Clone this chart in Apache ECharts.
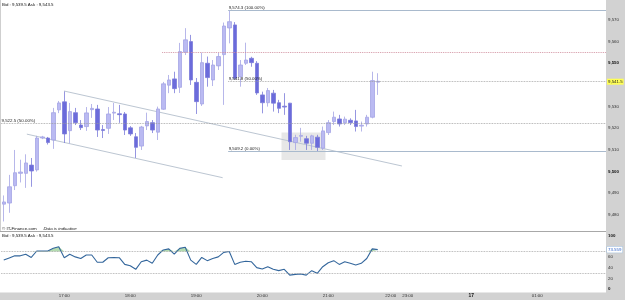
<!DOCTYPE html>
<html>
<head>
<meta charset="utf-8">
<script src="https://cdn.jsdelivr.net/npm/echarts@6/dist/echarts.min.js"></script>
<style>html,body{margin:0;padding:0;background:#fff}#chart{width:625px;height:300px}</style>
</head>
<body>
<div id="chart"></div>
<script>
// 5 minute candles : open, close, low, high
const candles = [
  [9485, 9486, 9477, 9489], [9485.5, 9493, 9481, 9498.5], [9493.5, 9499.5, 9491.5, 9510],
  [9499.2, 9499.8, 9495, 9505.5], [9499.2, 9504, 9492.5, 9508], [9503, 9500.3, 9493, 9506.3],
  [9500.8, 9515.5, 9500, 9516.5], [9515.5, 9516, 9515, 9516.5], [9515.5, 9513.4, 9512.5, 9516],
  [9514.6, 9527.2, 9510.5, 9529.4], [9528.5, 9531.7, 9527, 9532.6], [9532.2, 9517.4, 9513.2, 9537],
  [9518.9, 9527.7, 9513, 9531.7], [9527.2, 9522.6, 9521.5, 9529.4], [9521.5, 9520.3, 9519.2, 9523.8],
  [9520.8, 9527.1, 9518.8, 9529.8], [9528.6, 9529.2, 9524.8, 9531.2], [9528.9, 9519.2, 9516, 9530.8],
  [9519.4, 9519, 9515.5, 9521.5], [9520, 9526.6, 9517.4, 9529.8], [9527, 9527.4, 9523.8, 9531.7],
  [9526.7, 9526.3, 9522.5, 9530.8], [9526.6, 9519.2, 9516.9, 9527.5], [9520.2, 9517.4, 9516.5, 9521],
  [9516.1, 9511.2, 9506.3, 9517.8], [9511.8, 9520.6, 9510, 9521.1], [9521.1, 9523.1, 9519.2, 9527.2],
  [9522.6, 9519.2, 9517.8, 9523.8], [9518.2, 9528.9, 9514.6, 9530], [9528.8, 9540.5, 9528.5, 9541.4],
  [9539.9, 9542.3, 9536.2, 9544.6], [9542.8, 9538.3, 9536.2, 9546.1], [9538.9, 9555.4, 9536.3, 9559.4],
  [9555.1, 9560.8, 9553.8, 9566.2], [9560, 9542.3, 9540, 9563.1], [9541.2, 9532.3, 9526.6, 9543.2],
  [9531.2, 9550.3, 9530.3, 9554.9], [9550, 9543.4, 9539.2, 9553.1], [9542.3, 9549.2, 9539.5, 9551.5],
  [9548.8, 9553.1, 9546.9, 9554.8], [9554, 9567.2, 9530.8, 9568.8], [9566.3, 9569.2, 9559.2, 9574.3],
  [9567.7, 9543.1, 9542.3, 9569], [9543.8, 9549.2, 9539.2, 9551.5], [9550, 9551.5, 9549.2, 9559.5],
  [9552.3, 9550.3, 9548.4, 9553], [9550, 9536.3, 9535.4, 9551], [9535.4, 9531.8, 9526.9, 9536.9],
  [9531.8, 9537.4, 9530, 9538.6], [9536.2, 9531.6, 9527.7, 9537.7], [9531.8, 9529.2, 9527, 9533.1],
  [9530.2, 9529.8, 9526.2, 9536.2], [9531.6, 9513.8, 9510, 9531.7], [9513.4, 9515.7, 9510, 9517],
  [9516.3, 9516.7, 9513.8, 9520.2], [9515.2, 9513.1, 9510, 9516.5], [9513.1, 9516.5, 9510, 9517],
  [9515.9, 9511.2, 9509.2, 9517], [9510.8, 9518.8, 9510, 9520.8], [9518, 9522.6, 9516.9, 9523.8],
  [9523.1, 9525.1, 9521.5, 9527.7], [9524.3, 9522, 9520.8, 9526.2], [9522.6, 9524.2, 9521.5, 9525.4],
  [9523.7, 9522.6, 9521.5, 9524.6], [9523.4, 9520.8, 9518.5, 9528.5], [9521, 9521.4, 9518.5, 9523.1],
  [9522, 9525.1, 9520.8, 9526.2], [9525.1, 9542, 9524.6, 9546.1], [9541.3, 9541.7, 9535.4, 9545.4]
];

// RSI, one value per candle
const rsi = [
  54, 58, 62, 62, 65, 59, 71, 71, 71, 76,
  79, 58.5, 65, 60, 57, 63.5, 63.5, 50, 50, 58.5,
  59, 58.5, 46, 43.6, 36.8, 51, 54, 48, 63.5, 73,
  75, 65, 76, 78, 54, 46, 59, 53, 57, 60,
  68.5, 70, 46, 50, 52, 51, 40, 37.4, 41.7, 36.8,
  34.3, 36.8, 26, 27.4, 28, 26, 34.3, 29.3, 41.7, 49,
  53, 46, 51, 48, 45, 48, 57, 75, 73.56
];

const priceTicks = [9480, 9490, 9500, 9510, 9520, 9530, 9550, 9560, 9570];
const rsiTicks = [0, 20, 40, 60, 100];
const hourLabels = ['17:00', '18:00', '19:00', '20:00', '21:00', '22:00', '23:00', '00:00', '01:00'];

const lastPrice = 9541.5;
const lastRsi = 73.559;
const bidAsk = 'Bid : 9,539.5 Ask : 9,543.5';

// fibonacci levels (start slot, price, text)
const fibPrices = [9574.3, 9541.8, 9509.2];
const fibLabels = ['9,574.3 (100.00%)', '9,541.8 (50.00%)', '9,509.2 (0.00%)'];
const fibStart = 40.8;
const midLevel = 9522.5;
const midLabel = '9,522.5 (50.00%)';
const redLevel = 9555.2;
const redStart = 28.8;

// channel lines and box, in (slot, price)
const upperTrend = [[10.95, 9537.2], [72.4, 9502.6]];
const lowerTrend = [[4.2, 9517.3], [39.8, 9497.2]];
const boxRange = [[50.5, 9518], [58.5, 9505.4]];

// slots: 16:05 .. 22:00, one slot for the closed hour, then 23:00 .. 02:00
const hm = m => String(Math.floor(m / 60) % 24).padStart(2, '0') + ':' + String(m % 60).padStart(2, '0');
const times = [];
for (let m = 16 * 60 + 5; m <= 22 * 60; m += 5) times.push(hm(m));
times.push('22:30');
for (let m = 23 * 60; m <= 26 * 60; m += 5) times.push(hm(m));

const FONT = 'Liberation Sans';
const FS = 4.4;
const NOLINE = { color: 'rgba(0,0,0,0)', width: 0 };

const rsiBase = rsi.map(() => 70);
const rsiOver = rsi.map(v => Math.max(v - 70, 0));

const chart = echarts.init(document.getElementById('chart'));

const fibLines = fibPrices.map((p, i) => [
  {
    coord: [fibStart, p],
    lineStyle: i === 1 ? { color: '#9a9a9a', type: 'dotted', width: 0.8 } : { color: '#a9bacd', type: 'solid', width: 1.2 },
    label: { show: true, position: 'insideStartTop', formatter: fibLabels[i], distance: 0.5, fontSize: FS, fontFamily: FONT, color: '#222' }
  },
  { coord: [times.length - 0.5, p] }
]);

const tl = { fontSize: FS, fontFamily: FONT, color: '#333' };

chart.setOption({
  animation: false,
  backgroundColor: '#fff',
  grid: [
    { left: 1, right: 19, top: 0, height: 231, outerBoundsMode: 'none' },
    { left: 1, right: 19, top: 235.5, height: 53.5, outerBoundsMode: 'none' }
  ],
  xAxis: [
    { type: 'category', gridIndex: 0, data: times, show: false },
    {
      type: 'category', gridIndex: 1, data: times,
      axisLine: { show: false }, axisTick: { show: false },
      axisLabel: {
        interval: (i, v) => hourLabels.includes(v),
        formatter: v => {
          if (v === '00:00') return '{d|17}';
          if (v === '22:00') return '{l|' + v + '}';
          if (v === '23:00') return '{r|' + v + '}';
          return v;
        },
        fontSize: FS, fontFamily: FONT, color: '#333', margin: 4.5,
        rich: {
          d: { fontSize: FS + 0.5, fontFamily: FONT, fontWeight: 'bold', color: '#111' },
          l: Object.assign({ padding: [0, 7, 0, 0] }, tl),
          r: Object.assign({ padding: [0, 0, 0, 5] }, tl)
        }
      }
    },
    { type: 'value', gridIndex: 0, min: -0.5, max: times.length - 0.5, show: false }
  ],
  yAxis: [
    {
      type: 'value', gridIndex: 0, position: 'right', min: 9472.6, max: 9579.2, scale: true,
      splitLine: { show: false }, axisLine: { show: false }, axisTick: { show: false },
      axisLabel: {
        customValues: priceTicks, margin: 2, fontSize: FS, fontFamily: FONT, color: '#333',
        formatter: v => {
          const s = String(v);
          const t = s[0] + ',' + s.slice(1);
          return v % 50 === 0 ? '{b|' + t + '}' : t;
        },
        rich: { b: { fontSize: FS, fontFamily: FONT, fontWeight: 'bold', color: '#111' } }
      }
    },
    {
      type: 'value', gridIndex: 1, position: 'right', min: 0, max: 100,
      splitLine: { show: false }, axisLine: { show: false }, axisTick: { show: false },
      axisLabel: {
        customValues: rsiTicks, margin: 2, fontSize: FS, fontFamily: FONT, color: '#333',
        formatter: v => (v === 0 || v === 100) ? '{b|' + v + '}' : String(v),
        rich: { b: { fontSize: FS, fontFamily: FONT, fontWeight: 'bold', color: '#111' } }
      }
    }
  ],
  graphic: [
    { type: 'rect', z: -10, shape: { x: 606, y: 0, width: 19, height: 300 }, style: { fill: '#d2d2d2' } },
    { type: 'rect', z: -10, shape: { x: 0, y: 292.5, width: 625, height: 8 }, style: { fill: '#d2d2d2' } },
    { type: 'line', z: -5, shape: { x1: 0, y1: 231.5, x2: 606, y2: 231.5 }, style: { stroke: '#a8a8a8', lineWidth: 1 } },
    { type: 'line', z: -5, shape: { x1: 0.5, y1: 0, x2: 0.5, y2: 231 }, style: { stroke: '#cfcfcf', lineWidth: 1 } },
    { type: 'text', x: 2, y: 5, style: { text: bidAsk, font: FS + 'px ' + FONT, fill: '#111', verticalAlign: 'middle' } },
    {
      type: 'text', x: 2, y: 229,
      style: {
        text: '{n|\u00a9 IT-Finance.com}  {i|Data is indicative}', verticalAlign: 'middle',
        rich: {
          n: { fontSize: FS, fontFamily: FONT, fill: '#111' },
          i: { fontSize: FS, fontFamily: FONT, fontStyle: 'italic', fill: '#111' }
        }
      }
    },
    { type: 'text', x: 2, y: 236, style: { text: bidAsk, font: FS + 'px ' + FONT, fill: '#111', verticalAlign: 'middle' } }
  ],
  series: [
    {
      type: 'candlestick', xAxisIndex: 0, yAxisIndex: 0, data: candles, barWidth: 4, z: 3,
      itemStyle: { color: '#babaf2', borderColor: '#a4a4e4', color0: '#6b6bdb', borderColor0: '#7b7bd9', borderWidth: 0.8 }
    },
    {
      type: 'line', xAxisIndex: 2, yAxisIndex: 0, data: upperTrend, symbol: 'none', z: 2,
      lineStyle: { color: '#bcc6d2', width: 1 },
      markArea: {
        silent: true,
        itemStyle: { color: 'rgba(215,215,215,0.6)' },
        data: [[{ coord: boxRange[0] }, { coord: boxRange[1] }]]
      },
      markLine: {
        silent: true, symbol: ['none', 'none'],
        data: [
          ...fibLines,
          [
            {
              coord: [-0.5, midLevel], lineStyle: { color: '#9a9a9a', type: 'dotted', width: 0.8 },
              label: { show: true, position: 'insideStartTop', formatter: midLabel, distance: 0.5, fontSize: FS, fontFamily: FONT, color: '#222' }
            },
            { coord: [times.length - 0.5, midLevel] }
          ],
          [
            { coord: [redStart, redLevel], lineStyle: { color: '#d08c9c', type: 'dotted', width: 0.9 }, label: { show: false } },
            { coord: [times.length - 0.5, redLevel] }
          ],
          {
            yAxis: lastPrice, lineStyle: NOLINE,
            label: {
              show: true, position: 'end', distance: 1, formatter: '9,541.5',
              fontSize: FS, fontFamily: FONT, color: '#222', backgroundColor: '#ffff55', padding: [1, 1]
            }
          }
        ]
      }
    },
    {
      type: 'line', xAxisIndex: 2, yAxisIndex: 0, data: lowerTrend, symbol: 'none', z: 2,
      lineStyle: { color: '#bcc6d2', width: 1 }
    },
    {
      type: 'line', xAxisIndex: 1, yAxisIndex: 1, data: rsiBase, stack: 'ob', symbol: 'none',
      lineStyle: NOLINE, silent: true
    },
    {
      type: 'line', xAxisIndex: 1, yAxisIndex: 1, data: rsiOver, stack: 'ob', symbol: 'none',
      lineStyle: NOLINE, areaStyle: { color: '#b4dbb0', opacity: 1 }, silent: true
    },
    {
      type: 'line', xAxisIndex: 1, yAxisIndex: 1, data: rsi, symbol: 'none', z: 4,
      lineStyle: { color: '#33669c', width: 1.1 },
      markLine: {
        silent: true, symbol: ['none', 'none'],
        data: [
          { yAxis: 70, lineStyle: { color: '#a0a0a0', type: 'dotted', width: 0.8 }, label: { show: false } },
          { yAxis: 30, lineStyle: { color: '#a0a0a0', type: 'dotted', width: 0.8 }, label: { show: false } },
          {
            yAxis: lastRsi, lineStyle: NOLINE,
            label: {
              show: true, position: 'end', distance: 1, formatter: '73.559',
              fontSize: FS, fontFamily: FONT, color: '#3366cc', backgroundColor: '#fff',
              borderColor: '#9cbcdc', borderWidth: 0.5, padding: [1, 1]
            }
          }
        ]
      }
    }
  ]
});
</script>
</body>
</html>
